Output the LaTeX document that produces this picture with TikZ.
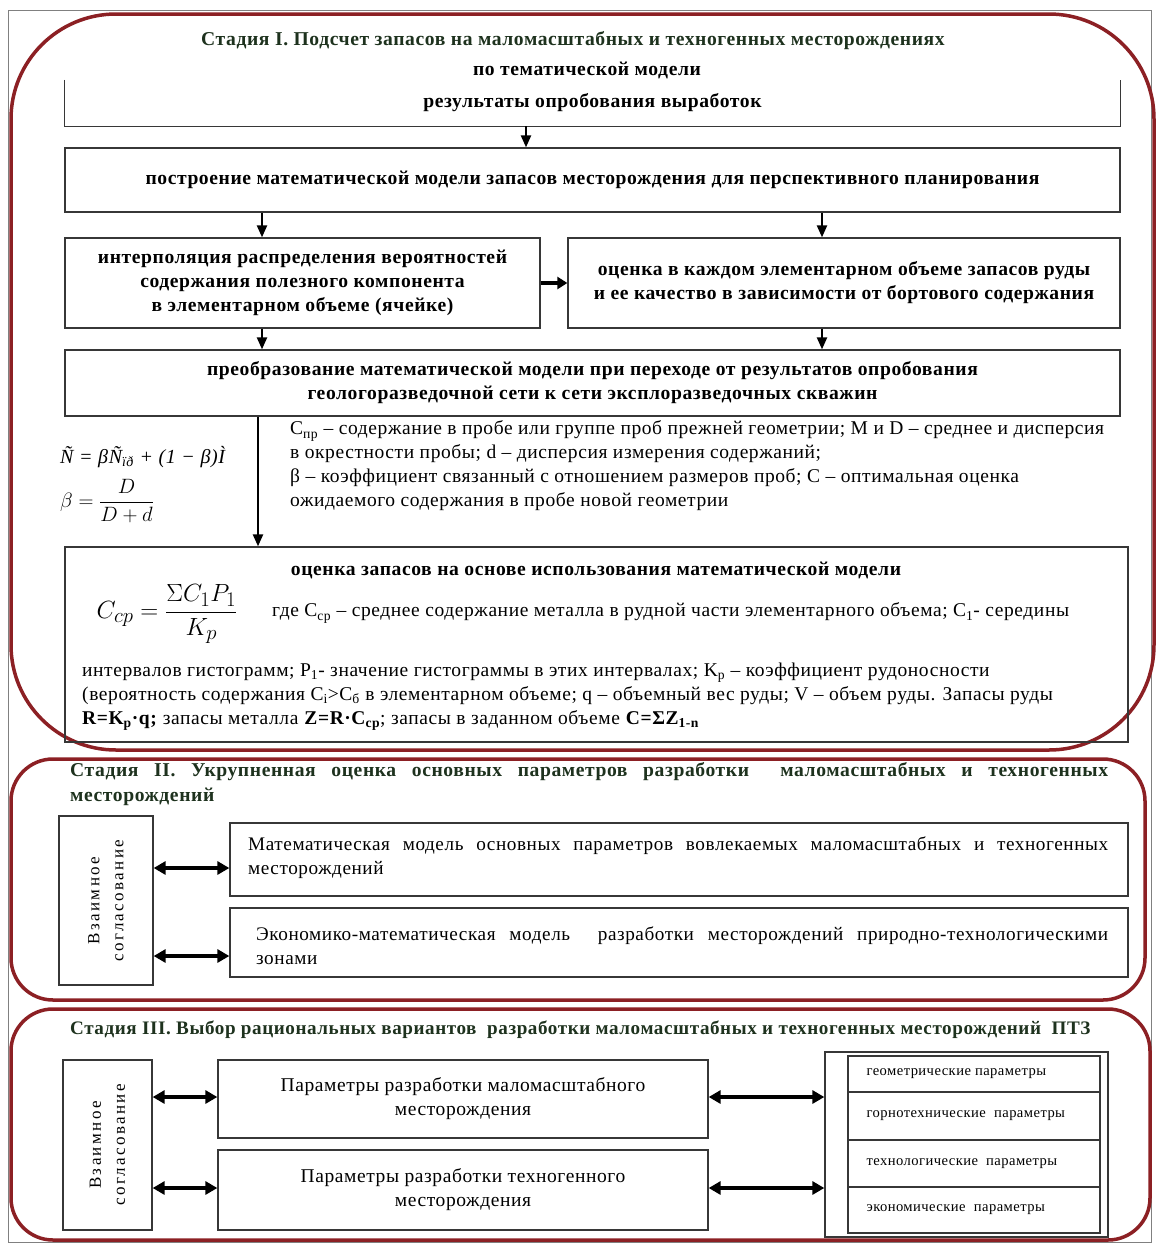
\documentclass[tikz,border=0pt]{standalone}
\usepackage{fontspec}
\setmainfont{Liberation Serif}[LetterSpace=3]
\usetikzlibrary{arrows.meta,calc}
\definecolor{frred}{RGB}{140,32,36}
\definecolor{ttlgreen}{RGB}{30,50,30}
\definecolor{boxline}{RGB}{55,55,55}
\tikzset{
  stagebox/.style={draw=frred, line width=3.5pt},
  pbox/.style={draw=boxline, line width=1.3pt, inner sep=0pt},
  arr/.style={-{Triangle[length=12pt,width=10pt]}, line width=2.3pt},
  thickarr/.style={-{Triangle[length=10pt,width=12pt]}, line width=4.5pt},
  darr/.style={{Triangle[length=12pt,width=13pt]}-{Triangle[length=12pt,width=13pt]}, line width=3.2pt},
  btxt/.style={font=\bfseries\fontsize{19.6}{24}\selectfont, align=center},
  ttl/.style={font=\bfseries\fontsize{19.6}{24}\selectfont, text=ttlgreen, inner sep=0pt},
  rtxt/.style={font=\fontsize{19.5}{24}\selectfont, align=left, inner sep=0pt},
  stxt/.style={font=\fontsize{14.6}{16}\selectfont, anchor=west, inner sep=0pt},
}
\begin{document}
\begin{tikzpicture}[x=1pt,y=-1pt]
\useasboundingbox (0,0) rectangle (1158,1243);
\fill[white] (0,0) rectangle (1158,1243);
\draw[gray, line width=1pt] (8,10) rectangle (1151,1242);
% stage frames
\draw[stagebox, rounded corners=105pt] (11,14) rectangle (1154,750);
\draw[stagebox, rounded corners=42pt] (11,759) rectangle (1145,1000);
\draw[stagebox, rounded corners=42pt] (11,1009) rectangle (1150,1240);

% ---------- Stage I
\node[ttl] (t1) at (573,41) {Стадия I. Подсчет запасов на маломасштабных и техногенных месторождениях};
\node[btxt, inner sep=0pt] (t1b) at (587,70) {по тематической модели};
\node[minimum width=1055pt, minimum height=46pt, btxt, inner sep=0pt] (b1) at (592.5,103) {результаты опробования выработок};
\draw[boxline, line width=1.3pt] (b1.north west) -- (b1.south west) -- (b1.south east) -- (b1.north east);
\node[pbox, minimum width=1055pt, minimum height=64pt, btxt] (b2) at (592.5,180)
  {построение математической модели запасов месторождения для перспективного планирования};
\node[pbox, minimum width=475pt, minimum height=90pt, btxt] (b3) at (302.5,283)
  {интерполяция распределения вероятностей\\содержания полезного компонента\\в элементарном объеме (ячейке)};
\node[pbox, minimum width=552pt, minimum height=90pt, btxt] (b4) at (844,283)
  {оценка в каждом элементарном объеме запасов руды\\и ее качество в зависимости от бортового содержания};
\node[pbox, minimum width=1055pt, minimum height=66pt, btxt] (b5) at (592.5,383)
  {преобразование математической модели при переходе от результатов опробования\\геологоразведочной сети к сети эксплоразведочных скважин};
\node[pbox, minimum width=1063pt, minimum height=195pt] (b6) at (596.5,644.5) {};

\coordinate (xM) at (526,0);
\coordinate (xL) at (262,0);
\coordinate (xR) at (822,0);
\coordinate (xD) at (258,0);
\draw[arr] (xM |- b1.south) -- (xM |- b2.north);
\draw[arr] (xL |- b2.south) -- (xL |- b3.north);
\draw[arr] (xR |- b2.south) -- (xR |- b4.north);
\draw[thickarr] (b3.east) -- (b4.west);
\draw[arr] (xL |- b3.south) -- (xL |- b5.north);
\draw[arr] (xR |- b4.south) -- (xR |- b5.north);
\draw[arr] (xD |- b5.south) -- (xD |- b6.north);

% formulas
\node[font=\itshape\fontsize{20}{24}\selectfont, anchor=west, inner sep=0pt] (f1) at (60,457)
  {Ñ = βÑ\textsubscript{ïð} + (1 − β)Ì};
\node[font=\fontsize{21}{24}\selectfont, anchor=west, inner sep=0pt] (f2) at (60,501)
  {$\displaystyle\beta = \frac{D}{D+d}$};
\node[rtxt, anchor=west] (d1) at (290,466)
  {C\textsubscript{пр} – содержание в пробе или группе проб прежней геометрии; М и D – среднее и дисперсия\\
   в окрестности пробы; d – дисперсия измерения содержаний;\\
   β – коэффициент связанный с отношением размеров проб; C – оптимальная оценка\\
   ожидаемого содержания в пробе новой геометрии};

% box 6 content
\node[btxt, inner sep=0pt] (b6t) at (596,570) {оценка запасов на основе использования математической модели};
\node[font=\fontsize{28}{32}\selectfont, inner sep=0pt] (f3) at (167,614)
  {$\displaystyle C_{cp} = \frac{\Sigma C_1 P_1}{K_p}$};
\node[rtxt, anchor=west] (g1) at (272,613)
  {где C\textsubscript{ср} – среднее содержание металла в рудной части элементарного объема; C\textsubscript{1}- середины};
\node[rtxt, anchor=west] (g2) at (82,697)
  {интервалов гистограмм; P\textsubscript{1}- значение гистограммы в этих интервалах; K\textsubscript{р} – коэффициент рудоносности\\
   (вероятность содержания C\textsubscript{i}>C\textsubscript{б} в элементарном объеме; q – объемный вес руды; V – объем руды. Запасы руды\\
   \textbf{R=K\textsubscript{р}·q;} запасы металла \textbf{Z=R·C\textsubscript{ср}}; запасы в заданном объеме \textbf{C=ΣZ\textsubscript{1-n}}};

% ---------- Stage II
\node[ttl, anchor=west] (t2a) at (70,772) {\makebox[1038pt][s]{Стадия II. Укрупненная оценка основных параметров разработки \ маломасштабных и техногенных}};
\node[ttl, anchor=west] (t2b) at (70,797) {месторождений};
\node[pbox, minimum width=94pt, minimum height=169pt] (v2) at (106,900.5) {};
\node[rtxt, rotate=90, align=center, font=\fontsize{17}{24}\selectfont\addfontfeatures{LetterSpace=14}] at (v2.center) {Взаимное\\согласование};
\node[pbox, minimum width=898pt, minimum height=73pt] (a2) at (679,859.5) {};
\node[rtxt, anchor=west, font=\fontsize{19.2}{24}\selectfont] (a2t) at (248,858)
  {\makebox[860pt][s]{Математическая модель основных параметров вовлекаемых маломасштабных и техногенных}\\месторождений};
\node[pbox, minimum width=898pt, minimum height=69pt] (e2) at (679,942.5) {};
\node[rtxt, anchor=west, font=\fontsize{19.2}{24}\selectfont] (e2t) at (256,946)
  {\makebox[852pt][s]{Экономико-математическая модель \ разработки месторождений природно-технологическими}\\зонами};
\coordinate (y2a) at (0,868);
\coordinate (y2b) at (0,956);
\draw[darr] (v2.east |- y2a) -- (a2.west |- y2a);
\draw[darr] (v2.east |- y2b) -- (e2.west |- y2b);

% ---------- Stage III
\node[ttl, anchor=west, font=\bfseries\fontsize{19.1}{24}\selectfont] (t3) at (70,1030) {Стадия III. Выбор рациональных вариантов \ разработки маломасштабных и техногенных месторождений \ ПТЗ};
\node[pbox, minimum width=89pt, minimum height=170pt] (v3) at (107.5,1145) {};
\node[rtxt, rotate=90, align=center, font=\fontsize{17}{24}\selectfont\addfontfeatures{LetterSpace=14}] at (v3.center) {Взаимное\\согласование};
\node[pbox, minimum width=490pt, minimum height=78pt, font=\fontsize{19.5}{24}\selectfont, align=center] (p1) at (463,1099)
  {Параметры разработки маломасштабного\\месторождения};
\node[pbox, minimum width=490pt, minimum height=80pt, font=\fontsize{19.5}{24}\selectfont, align=center] (p2) at (463,1190)
  {Параметры разработки техногенного\\месторождения};
\node[pbox, minimum width=283pt, minimum height=185pt] (r3) at (966.5,1144.5) {};
\node[pbox, minimum width=252pt, minimum height=36pt] (r3a) at (974,1074) {};
\node[pbox, minimum width=252pt, minimum height=48pt] (r3b) at (974,1116) {};
\node[pbox, minimum width=252pt, minimum height=47pt] (r3c) at (974,1163.5) {};
\node[pbox, minimum width=252pt, minimum height=46pt] (r3d) at (974,1210) {};
\node[stxt] at ($(r3a.west)+(19,0)$) {геометрические параметры};
\node[stxt] at ($(r3b.west)+(19,0)$) {горнотехнические \ параметры};
\node[stxt] at ($(r3c.west)+(19,0)$) {технологические \ параметры};
\node[stxt] at ($(r3d.west)+(19,0)$) {экономические \ параметры};
\coordinate (y3a) at (0,1097);
\coordinate (y3b) at (0,1188);
\draw[darr] (v3.east |- y3a) -- (p1.west |- y3a);
\draw[darr] (v3.east |- y3b) -- (p2.west |- y3b);
\draw[darr] (p1.east |- y3a) -- (r3.west |- y3a);
\draw[darr] (p2.east |- y3b) -- (r3.west |- y3b);
\end{tikzpicture}
\end{document}
